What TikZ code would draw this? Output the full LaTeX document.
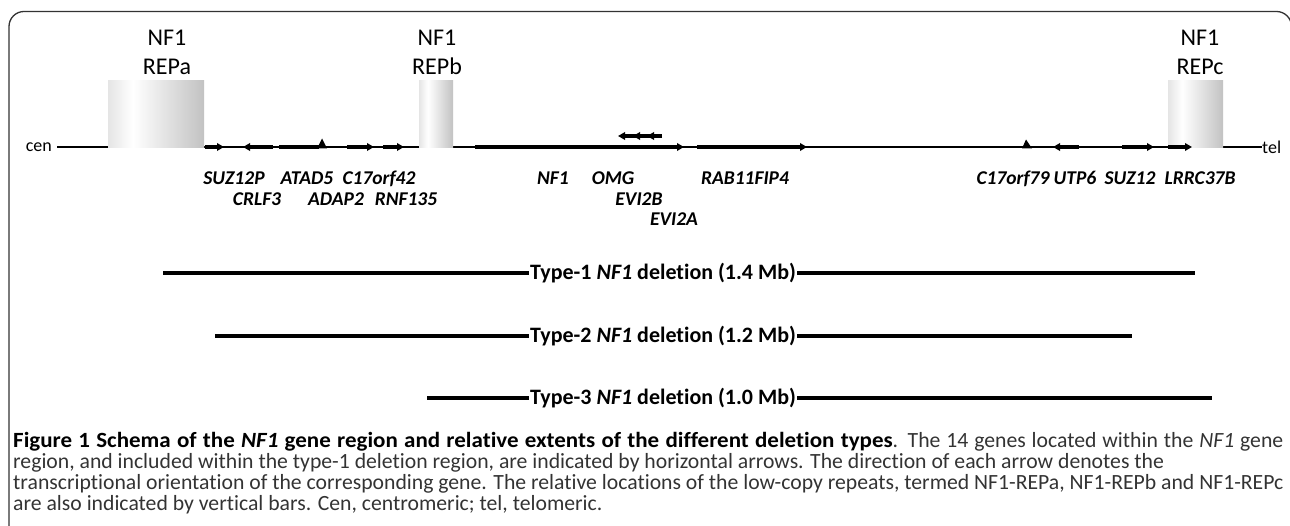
\documentclass[tikz,border=0pt]{standalone}
\usepackage{fontspec}
\setmainfont{Carlito}[Ligatures=NoCommon]
\usetikzlibrary{arrows.meta}
% grey-white-grey cylinder look for the low-copy repeat bars
\pgfdeclarehorizontalshading{repshade}{100bp}{color(0bp)=(black!30); color(38bp)=(white); color(100bp)=(black!40)}

\begin{document}
\begin{tikzpicture}[x=1pt,y=-1pt,
  frame/.style={line width=1.3pt, black!80, rounded corners=15pt},
  chrom/.style={line width=1.2pt, black},
  gene/.style={line width=3.6pt, black, -{Triangle[length=7pt,width=7.5pt]}},
  tiny/.style={fill=black, draw=none},
  replabel/.style={font=\fontsize{24}{24}\selectfont, anchor=base, inner sep=0pt},
  endlabel/.style={font=\fontsize{18}{18}\selectfont, inner sep=0pt},
  genelabel/.style={font=\fontsize{19.5}{19.5}\selectfont\bfseries\itshape, anchor=base, inner sep=0pt},
  dellabel/.style={font=\fontsize{22}{22}\selectfont\bfseries, anchor=west, inner xsep=1pt, inner ysep=0pt},
  delline/.style={line width=4pt, black},
  capline/.style={font=\fontsize{21.7}{21.7}\selectfont, anchor=base west, inner sep=0pt, text=black!80}
]
\useasboundingbox (0,0) rectangle (1290,526);

% open frame round the figure
\draw[frame] (9,540) -- (9,11.5) -- (1291.5,11.5) -- (1291.5,540);

% chromosome axis
\node[endlabel, anchor=east] (cen) at (52,147) {cen};
\node[endlabel, anchor=west] (tel) at (1262,147) {tel};
\draw[chrom] (57,147) -- (tel.west);

% low-copy repeats
\shade[shading=repshade] (108,81) rectangle (204,147.6);
\shade[shading=repshade] (419,81) rectangle (453,147.6);
\shade[shading=repshade] (1168,81) rectangle (1223,147.6);
\node[replabel] (rapa) at (167,45.5) {NF1};
\node[replabel] (rapb) at (167,75) {REPa};
\node[replabel] (rbpa) at (437,45.5) {NF1};
\node[replabel] (rbpb) at (437,75) {REPb};
\node[replabel] (rcpa) at (1200,45.5) {NF1};
\node[replabel] (rcpb) at (1200,75) {REPc};

% genes, arrow pointing in the direction of transcription
\draw[gene] (205,147) -- (224,147);
\draw[gene] (273,147) -- (243,147);
\draw[line width=3.6pt] (279,147) -- (319,147);
\fill[tiny] (317,148.5) -- (322,138.5) -- (327,148.5) -- cycle;
\draw[gene] (347,147) -- (374,147);
\draw[gene] (383,147) -- (404,147);
\draw[gene] (475,147) -- (684,147);
\draw[gene] (697,147) -- (807,147);
\draw[gene] (662,136) -- (618,136);
\draw[gene] (650,136) -- (633,136);
\draw[gene] (660,136) -- (647,136);
\fill[tiny] (1022,148.5) -- (1026,139.5) -- (1032,148.5) -- cycle;
\draw[gene] (1079,147) -- (1053,147);
\draw[gene] (1122,147) -- (1154,147);
\draw[gene] (1168,147) -- (1192,147);

% gene names
\node[genelabel] (g1) at (234,185) {SUZ12P};
\node[genelabel] (g2) at (257,206) {CRLF3};
\node[genelabel] (g3) at (307,185) {ATAD5};
\node[genelabel] (g4) at (336,206) {ADAP2};
\node[genelabel] (g5) at (379,185) {C17orf42};
\node[genelabel] (g6) at (406,206) {RNF135};
\node[genelabel] (g7) at (553,185) {NF1};
\node[genelabel] (g8) at (613,185) {OMG};
\node[genelabel] (g9) at (639,206) {EVI2B};
\node[genelabel] (g10) at (674,226) {EVI2A};
\node[genelabel] (g11) at (745,185) {RAB11FIP4};
\node[genelabel] (g12) at (1013,185) {C17orf79};
\node[genelabel] (g13) at (1075,185) {UTP6};
\node[genelabel] (g14) at (1130,185) {SUZ12};
\node[genelabel] (g15) at (1200,185) {LRRC37B};

% deletion extents
\node[dellabel] (t1) at (529,273) {Type-1 \textit{NF1} deletion (1.4 Mb)};
\coordinate (t1a) at (163,273);
\coordinate (t1b) at (1195,273);
\draw[delline] (t1a) -- (t1.west);
\draw[delline] (t1.east) -- (t1b);

\node[dellabel] (t2) at (529,336) {Type-2 \textit{NF1} deletion (1.2 Mb)};
\coordinate (t2a) at (215,336);
\coordinate (t2b) at (1132,336);
\draw[delline] (t2a) -- (t2.west);
\draw[delline] (t2.east) -- (t2b);

\node[dellabel] (t3) at (529,398) {Type-3 \textit{NF1} deletion (1.0 Mb)};
\coordinate (t3a) at (427,398);
\coordinate (t3b) at (1212,398);
\draw[delline] (t3a) -- (t3.west);
\draw[delline] (t3.east) -- (t3b);

% caption; the first line is set flush to the full width
\node[capline] (c1) at (13,447) {\makebox[1270pt][s]{\textcolor{black}{\bfseries\addfontfeature{FakeStretch=1.06}Figure 1 Schema of the \textit{NF1} gene region and relative extents of the different deletion types}. The 14 genes located within the \textit{NF1} gene}};
\node[capline] (c2) at (13,468) {region, and included within the type-1 deletion region, are indicated by horizontal arrows. The direction of each arrow denotes the};
\node[capline] (c3) at (13,489) {transcriptional orientation of the corresponding gene. The relative locations of the low-copy repeats, termed NF1-REPa, NF1-REPb and NF1-REPc};
\node[capline] (c4) at (13,510) {are also indicated by vertical bars. Cen, centromeric; tel, telomeric.};
\end{tikzpicture}
\end{document}
